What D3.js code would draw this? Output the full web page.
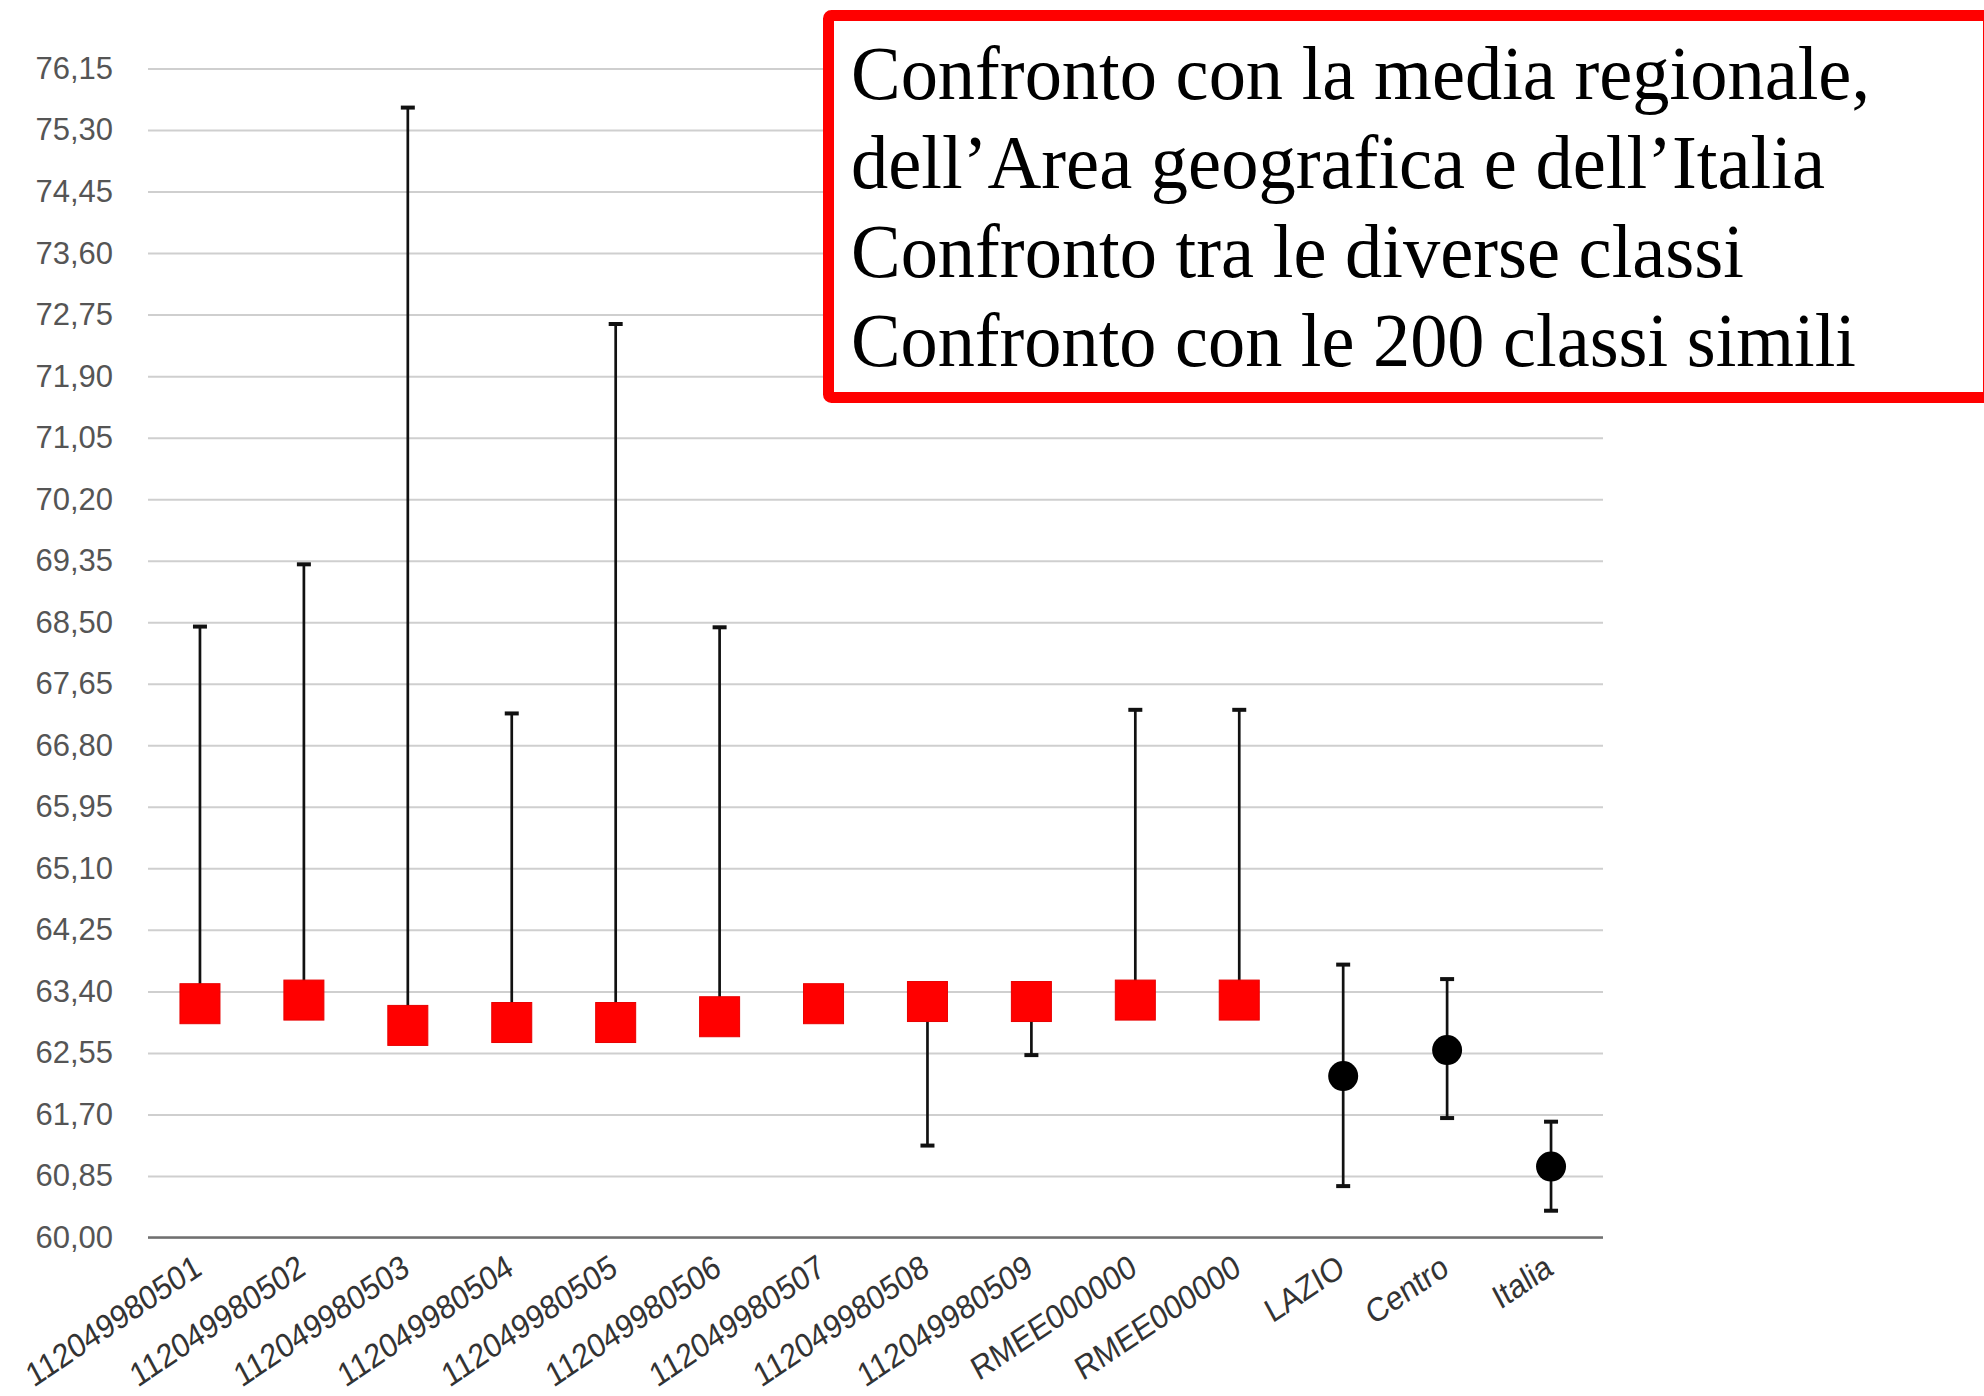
<!DOCTYPE html>
<html>
<head>
<meta charset="utf-8">
<script src="https://cdn.jsdelivr.net/npm/d3@7"></script>
<style>
  html, body { margin: 0; padding: 0; background: #fff; }
  svg { display: block; }
</style>
</head>
<body>
<svg id="chart" width="1984" height="1396"></svg>
<script>
// ---- data ----
const categories = ["112049980501","112049980502","112049980503","112049980504","112049980505","112049980506","112049980507","112049980508","112049980509","RMEE000000","RMEE000000","LAZIO","Centro","Italia"];
const kinds = ["classe","classe","classe","classe","classe","classe","classe","classe","classe","classe","classe","area","area","area"];
const values = [63.23, 63.28, 62.93, 62.97, 62.97, 63.05, 63.23, 63.26, 63.26, 63.28, 63.28, 62.23, 62.59, 60.98];
const highs  = [68.44, 69.30, 75.61, 67.24, 72.62, 68.43, 63.23, 63.26, 63.26, 67.29, 67.29, 63.77, 63.57, 61.60];
const lows   = [63.23, 63.28, 62.93, 62.97, 62.97, 63.05, 63.23, 61.27, 62.52, 63.28, 63.28, 60.71, 61.65, 60.37];
const yTicks = [60.00, 60.85, 61.70, 62.55, 63.40, 64.25, 65.10, 65.95, 66.80, 67.65, 68.50, 69.35, 70.20, 71.05, 71.90, 72.75, 73.60, 74.45, 75.30, 76.15];
const titleLines = [
  "Confronto con la media regionale,",
  "dell\u2019Area geografica e dell\u2019Italia",
  "Confronto tra le diverse classi",
  "Confronto con le 200 classi simili"
];

(function () {
// ---- layout ----
const svg = d3.select("#chart");
const pLeft = 148, pRight = 1603, pTop = 68.5, pBottom = 1237.5;

const x = d3.scalePoint().domain(d3.range(categories.length)).range([pLeft, pRight]).padding(0.5);
const y = d3.scaleLinear().domain([60, 76.15]).range([pBottom, pTop]);

const itLocale = d3.formatLocale({decimal: ",", thousands: ".", grouping: [3], currency: ["€", ""]});
const fmt = itLocale.format(".2f");

// grid + y labels
const yAxis = svg.append("g")
  .attr("transform", `translate(${pLeft},0)`)
  .call(d3.axisLeft(y).tickValues(yTicks).tickFormat(fmt).tickSize(-(pRight - pLeft)).tickPadding(35));
yAxis.select(".domain").remove();
yAxis.selectAll(".tick line").attr("stroke", "#cfcfcf").attr("stroke-width", 2);
yAxis.selectAll(".tick text")
  .attr("font-family", "'Liberation Sans', Arial, sans-serif")
  .attr("font-size", 31)
  .attr("fill", "#555");

// baseline
svg.append("line")
  .attr("x1", pLeft).attr("x2", pRight)
  .attr("y1", y(60)).attr("y2", y(60))
  .attr("stroke", "#707070").attr("stroke-width", 2.5);

// x labels
const xAxis = svg.append("g")
  .attr("transform", `translate(0,${y(60)})`)
  .call(d3.axisBottom(x).tickFormat(i => categories[i]).tickSize(0));
xAxis.select(".domain").remove();
xAxis.selectAll(".tick text")
  .attr("font-family", "'Liberation Sans', Arial, sans-serif")
  .attr("font-size", 30)
  .attr("fill", "#333")
  .attr("text-anchor", "end")
  .attr("x", 0).attr("y", 0).attr("dy", 0)
  .attr("transform", "translate(3,36) scale(1,1.12) rotate(-31)");

// whiskers
const idx = d3.range(categories.length);
const capW = 7;
const wg = svg.append("g").attr("stroke", "#111").attr("stroke-width", 2.7);
wg.selectAll("line.stem").data(idx).join("line").attr("class", "stem")
  .attr("x1", i => x(i)).attr("x2", i => x(i))
  .attr("y1", i => y(lows[i])).attr("y2", i => y(highs[i]));
wg.selectAll("line.capHi").data(idx).join("line").attr("class", "capHi")
  .attr("x1", i => x(i) - capW).attr("x2", i => x(i) + capW)
  .attr("y1", i => y(highs[i])).attr("y2", i => y(highs[i]))
  .attr("stroke-width", 4);
wg.selectAll("line.capLo").data(idx).join("line").attr("class", "capLo")
  .attr("x1", i => x(i) - capW).attr("x2", i => x(i) + capW)
  .attr("y1", i => y(lows[i])).attr("y2", i => y(lows[i]))
  .attr("stroke-width", 4);

// markers
const sq = 40;
svg.append("g").selectAll("rect").data(idx.filter(i => kinds[i] === "classe")).join("rect")
  .attr("x", i => x(i) - sq / 2).attr("y", i => y(values[i]) - sq / 2)
  .attr("width", sq).attr("height", sq)
  .attr("fill", "#ff0000").attr("stroke", "#e80000").attr("stroke-width", 1);
svg.append("g").selectAll("circle").data(idx.filter(i => kinds[i] === "area")).join("circle")
  .attr("cx", i => x(i)).attr("cy", i => y(values[i])).attr("r", 15)
  .attr("fill", "#000");

// title box
svg.append("rect")
  .attr("x", 828.5).attr("y", 15.5).attr("width", 1160).attr("height", 382)
  .attr("rx", 3)
  .attr("fill", "#fff").attr("stroke", "#ff0000").attr("stroke-width", 11);
const lineEnds = [1870, 1825, 1744, 1856];
svg.append("g").selectAll("text").data(titleLines).join("text")
  .attr("x", 851).attr("y", (d, i) => 98.5 + i * 89.3)
  .attr("font-family", "'Liberation Serif', 'Times New Roman', serif")
  .attr("font-size", 76)
  .attr("fill", "#000")
  .attr("textLength", (d, i) => lineEnds[i] - 851)
  .attr("lengthAdjust", "spacingAndGlyphs")
  .text(d => d);
})();
</script>
</body>
</html>
